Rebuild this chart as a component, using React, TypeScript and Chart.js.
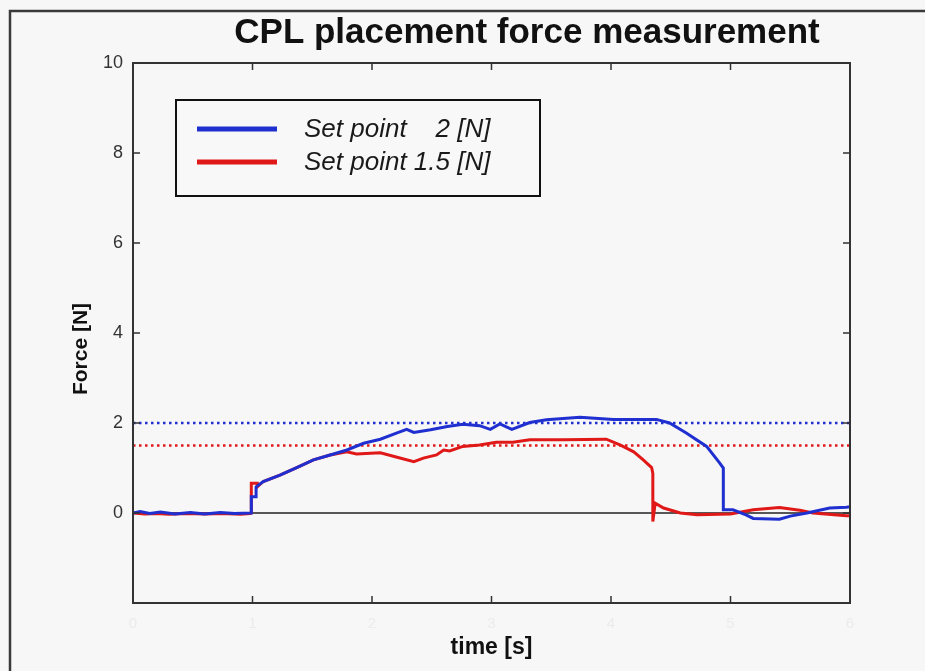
import { useEffect, useRef } from "react";
import { Chart, registerables } from "chart.js";

Chart.register(...registerables);

const chartTitle = "CPL placement force measurement";
const xAxisTitle = "time [s]";
const yAxisTitle = "Force [N]";
const seriesLabels = ["Set point    2 [N]", "Set point 1.5 [N]"];
const seriesColors = ["#1f2fd0", "#e01818"];
const setPoints = [2, 1.5];
const xRange = [0, 6];
const yRange = [-2, 10];
const xTickLabels = ["0", "1", "2", "3", "4", "5", "6"];

const blueTime = [0, 0.06, 0.14, 0.23, 0.35, 0.48, 0.6, 0.73, 0.85, 0.98, 0.99, 0.99, 1.03, 1.03, 1.09, 1.23, 1.37, 1.51, 1.65, 1.79, 1.93, 2.07, 2.21, 2.29, 2.35, 2.49, 2.63, 2.76, 2.9, 2.99, 3.07, 3.17, 3.32, 3.46, 3.74, 4.02, 4.38, 4.49, 4.63, 4.8, 4.91, 4.94, 4.94, 5.02, 5.13, 5.19, 5.41, 5.5, 5.64, 5.83, 5.97, 6.0];
const blueForce = [0.0, 0.03, -0.01, 0.02, -0.02, 0.01, -0.02, 0.01, -0.01, 0.0, 0.0, 0.36, 0.36, 0.58, 0.7, 0.84, 1.01, 1.18, 1.29, 1.4, 1.55, 1.64, 1.78, 1.86, 1.79, 1.85, 1.92, 1.97, 1.94, 1.86, 1.98, 1.86, 2.01, 2.07, 2.13, 2.08, 2.08, 2.0, 1.78, 1.48, 1.11, 1.0, 0.07, 0.07, -0.04, -0.12, -0.14, -0.07, 0.0, 0.11, 0.13, 0.14];

const redTime = [0, 0.1, 0.2, 0.3, 0.45, 0.6, 0.75, 0.9, 0.98, 0.99, 0.99, 1.04, 1.04, 1.09, 1.23, 1.37, 1.51, 1.65, 1.79, 1.87, 2.07, 2.21, 2.35, 2.43, 2.54, 2.6, 2.65, 2.76, 2.9, 3.04, 3.18, 3.32, 3.6, 3.96, 4.08, 4.19, 4.27, 4.34, 4.35, 4.35, 4.37, 4.44, 4.58, 4.72, 5.0, 5.19, 5.41, 5.58, 5.69, 5.97, 6.0];
const redForce = [0.0, -0.02, -0.01, -0.03, -0.01, -0.02, -0.01, -0.03, -0.01, 0.0, 0.66, 0.66, 0.58, 0.7, 0.84, 1.01, 1.18, 1.29, 1.36, 1.31, 1.34, 1.24, 1.14, 1.22, 1.29, 1.4, 1.38, 1.48, 1.51, 1.57, 1.57, 1.63, 1.63, 1.64, 1.51, 1.36, 1.18, 1.01, 0.88, -0.19, 0.22, 0.11, 0.0, -0.04, -0.02, 0.07, 0.12, 0.06, 0.0, -0.06, -0.06];

const toPoints = (xs: number[], ys: number[]) => xs.map((x, i) => ({ x, y: ys[i] }));

const FONT = "'Liberation Sans', Arial, Helvetica, sans-serif";

const decorPlugin = {
  id: "decor",
  beforeDraw(chart: any) {
    const { ctx, width, height } = chart;
    ctx.save();
    ctx.fillStyle = "#f7f7f7";
    ctx.fillRect(0, 0, width, height);
    ctx.strokeStyle = "#3a3a3a";
    ctx.lineWidth = 2.5;
    ctx.beginPath();
    ctx.moveTo(10, height);
    ctx.lineTo(10, 11);
    ctx.lineTo(width, 11);
    ctx.stroke();
    ctx.restore();
  },
  afterDatasetsDraw(chart: any) {
    const { ctx, chartArea } = chart;
    const { left, right, top, bottom } = chartArea;
    const xs = chart.scales.x;
    const ys = chart.scales.y;
    ctx.save();
    // plot frame
    ctx.strokeStyle = "#333";
    ctx.lineWidth = 2;
    ctx.strokeRect(left, top, right - left, bottom - top);
    // inward ticks
    const tl = 7;
    ctx.lineWidth = 1.5;
    ctx.beginPath();
    for (let v = yRange[0] + 2; v < yRange[1]; v += 2) {
      const y = ys.getPixelForValue(v);
      ctx.moveTo(left, y);
      ctx.lineTo(left + tl, y);
      ctx.moveTo(right, y);
      ctx.lineTo(right - tl, y);
    }
    for (let v = xRange[0] + 1; v < xRange[1]; v += 1) {
      const x = xs.getPixelForValue(v);
      ctx.moveTo(x, bottom);
      ctx.lineTo(x, bottom - tl);
      ctx.moveTo(x, top);
      ctx.lineTo(x, top + tl);
    }
    ctx.stroke();

    // y axis title
    ctx.save();
    ctx.translate(81, (top + bottom) / 2 + 16);
    ctx.rotate(-Math.PI / 2);
    ctx.font = `bold 21px ${FONT}`;
    ctx.fillStyle = "#111";
    ctx.textAlign = "center";
    ctx.textBaseline = "middle";
    ctx.fillText(yAxisTitle, 0, 0);
    ctx.restore();

    // legend
    const lx = 176, ly = 100, lw = 364, lh = 96;
    ctx.fillStyle = "#f8f8f8";
    ctx.fillRect(lx, ly, lw, lh);
    ctx.strokeStyle = "#111";
    ctx.lineWidth = 2;
    ctx.strokeRect(lx, ly, lw, lh);
    ctx.font = `italic 26px ${FONT}`;
    ctx.textBaseline = "middle";
    ctx.textAlign = "left";
    seriesLabels.forEach((label, i) => {
      const cy = ly + 29 + i * 33;
      ctx.strokeStyle = seriesColors[i];
      ctx.lineWidth = 5;
      ctx.beginPath();
      ctx.moveTo(lx + 21, cy);
      ctx.lineTo(lx + 101, cy);
      ctx.stroke();
      ctx.fillStyle = "#1a1a1a";
      ctx.fillText(label, lx + 128, cy + 1);
    });

    // title
    ctx.font = `bold 35px ${FONT}`;
    ctx.fillStyle = "#111";
    ctx.textAlign = "center";
    ctx.textBaseline = "middle";
    ctx.fillText(chartTitle, 527, 33);
    ctx.restore();
  },
};

export default function App() {
  const ref = useRef<HTMLCanvasElement>(null);
  useEffect(() => {
    if (!ref.current) return;
    const chart = new Chart(ref.current, {
      type: "line",
      data: {
        datasets: [
          {
            label: seriesLabels[0],
            data: toPoints(blueTime, blueForce),
            borderColor: seriesColors[0],
            borderWidth: 3,
            pointRadius: 0,
          },
          {
            label: seriesLabels[1],
            data: toPoints(redTime, redForce),
            borderColor: seriesColors[1],
            borderWidth: 3,
            pointRadius: 0,
          },
          {
            label: "setpoint2",
            data: toPoints(xRange, [setPoints[0], setPoints[0]]),
            borderColor: seriesColors[0],
            borderWidth: 2.5,
            borderDash: [2.5, 3.5],
            pointRadius: 0,
          },
          {
            label: "setpoint1.5",
            data: toPoints(xRange, [setPoints[1], setPoints[1]]),
            borderColor: seriesColors[1],
            borderWidth: 2.5,
            borderDash: [2.5, 3.5],
            pointRadius: 0,
          },
          {
            label: "zero",
            data: toPoints(xRange, [0, 0]),
            borderColor: "#222",
            borderWidth: 1.5,
            pointRadius: 0,
          },
        ],
      },
      options: {
        animation: false,
        responsive: true,
        maintainAspectRatio: false,
        layout: { padding: { top: 63, right: 75, left: 0, bottom: 0 } },
        plugins: {
          legend: { display: false },
          title: { display: false },
          tooltip: { enabled: false },
        },
        scales: {
          x: {
            type: "linear",
            min: xRange[0],
            max: xRange[1],
            grid: { display: false, drawTicks: false },
            border: { display: false },
            ticks: {
              stepSize: 1,
              color: "#ebebeb",
              padding: 12,
              font: { family: FONT, size: 15 },
              callback: (v: any) => xTickLabels[Number(v)] ?? "",
            },
            title: {
              display: true,
              text: xAxisTitle,
              color: "#111",
              font: { family: FONT, size: 23, weight: "bold" },
              padding: { top: 0, bottom: 10 },
            },
            afterFit: (s: any) => {
              s.height = 68;
            },
          },
          y: {
            min: yRange[0],
            max: yRange[1],
            grid: { display: false, drawTicks: false },
            border: { display: false },
            ticks: {
              stepSize: 2,
              color: "#333",
              padding: 10,
              font: { family: FONT, size: 18 },
              callback: (v: any) => (Number(v) === yRange[0] ? "" : String(v)),
            },
            afterFit: (s: any) => {
              s.width = 133;
            },
          },
        },
      } as any,
      plugins: [decorPlugin],
    });
    return () => chart.destroy();
  }, []);
  return (
    <div style={{ position: "fixed", left: 0, top: 0, width: 925, height: 671, background: "#f7f7f7" }}>
      <canvas ref={ref} />
    </div>
  );
}
